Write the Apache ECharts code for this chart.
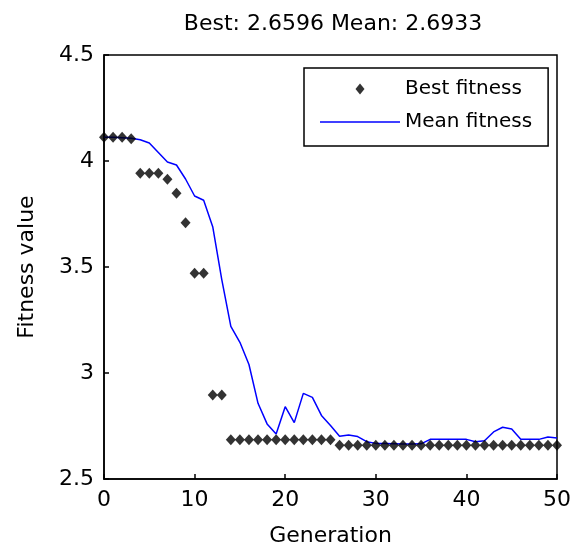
<!DOCTYPE html>
<html>
<head>
<meta charset="utf-8">
<script src="https://cdn.jsdelivr.net/npm/echarts@6/dist/echarts.min.js"></script>
<style>html,body{margin:0;padding:0;background:#fff;}#c{width:574px;height:546px;}</style>
</head>
<body>
<div id="c"></div>
<script>
var titleText = 'Best: 2.6596 Mean: 2.6933';
var generations = [];
for (var g = 0; g <= 50; g++) generations.push(g);
var bestFitness = [4.112,4.112,4.112,4.105,3.942,3.942,3.942,3.914,3.848,3.709,
  3.470,3.470,2.896,2.896,2.685,2.685,2.685,2.685,2.685,2.685,
  2.685,2.685,2.685,2.685,2.685,2.685,2.6596,2.6596,2.6596,2.6596,
  2.6596,2.6596,2.6596,2.6596,2.6596,2.6596,2.6596,2.6596,2.6596,2.6596,
  2.6596,2.6596,2.6596,2.6596,2.6596,2.6596,2.6596,2.6596,2.6596,2.6596,2.6596];
var meanFitness = [4.112,4.112,4.110,4.107,4.100,4.085,4.040,3.995,3.981,3.915,
  3.835,3.815,3.690,3.440,3.220,3.145,3.040,2.857,2.760,2.712,
  2.841,2.766,2.904,2.885,2.800,2.752,2.702,2.708,2.700,2.676,
  2.668,2.667,2.666,2.665,2.665,2.666,2.687,2.687,2.687,2.687,
  2.687,2.676,2.680,2.722,2.744,2.736,2.687,2.687,2.687,2.698,2.6933];
var xTicks = [0, 10, 20, 30, 40, 50];
var yTicks = [2.5, 3, 3.5, 4, 4.5];
var seriesNames = ['Best fitness', 'Mean fitness'];
var axisNames = ['Generation', 'Fitness value'];

var font = "'DejaVu Sans', 'Liberation Sans', Arial, sans-serif";
var chart = echarts.init(document.getElementById('c'), null, {renderer: 'canvas'});
function pairs(xs, ys) { return xs.map(function (x, i) { return [x, ys[i]]; }); }

chart.setOption({
  animation: false,
  backgroundColor: '#fff',
  title: {
    text: titleText, left: 328, top: 8, textAlign: 'center',
    textStyle: {fontFamily: font, fontSize: 22, fontWeight: 'normal', color: '#000'}
  },
  grid: {left: 104, right: 17, top: 55, bottom: 67, outerBoundsMode: 'none', containLabel: false,
    show: true, borderColor: '#000', borderWidth: 1.5, backgroundColor: '#fff'},
  legend: {
    orient: 'vertical', left: 304, top: 68,
    padding: [11, 16, 14, 16], itemGap: 13, itemWidth: 80, itemHeight: 12,
    borderColor: '#000', borderWidth: 1.5, backgroundColor: '#fff',
    textStyle: {fontFamily: font, fontSize: 20, color: '#000'},
    data: [
      {name: seriesNames[0], icon: 'path://M0,0M80,12M40,0.5L44.5,6L40,11.5L35.5,6Z'},
      {name: seriesNames[1], icon: 'path://M0,0M80,12M0,5.3L80,5.3L80,6.7L0,6.7Z'}
    ]
  },
  xAxis: {
    type: 'value', min: xTicks[0], max: xTicks[xTicks.length - 1], interval: 10,
    name: axisNames[0], nameLocation: 'middle', nameGap: 46,
    nameTextStyle: {fontFamily: font, fontSize: 22, color: '#000'},
    axisLine: {lineStyle: {color: '#000', width: 1.5}},
    axisTick: {inside: true, length: 5, lineStyle: {color: '#000', width: 1.5}},
    axisLabel: {fontFamily: font, fontSize: 22, color: '#000', margin: 10},
    splitLine: {show: false}
  },
  yAxis: {
    type: 'value', min: yTicks[0], max: yTicks[yTicks.length - 1], interval: 0.5,
    name: axisNames[1], nameLocation: 'middle', nameGap: 66,
    nameTextStyle: {fontFamily: font, fontSize: 22, color: '#000'},
    axisLine: {lineStyle: {color: '#000', width: 1.5}},
    axisTick: {inside: true, length: 5, lineStyle: {color: '#000', width: 1.5}},
    axisLabel: {fontFamily: font, fontSize: 22, color: '#000', margin: 10},
    splitLine: {show: false}
  },
  series: [
    {
      name: seriesNames[1], type: 'line', symbol: 'none',
      data: pairs(generations, meanFitness),
      lineStyle: {color: '#0000ff', width: 1.5}, itemStyle: {color: '#0000ff'}, z: 2
    },
    {
      name: seriesNames[0], type: 'scatter', symbol: 'diamond', symbolSize: [10, 11],
      data: pairs(generations, bestFitness),
      itemStyle: {color: '#000'}, z: 3
    }
  ]
});
</script>
</body>
</html>
